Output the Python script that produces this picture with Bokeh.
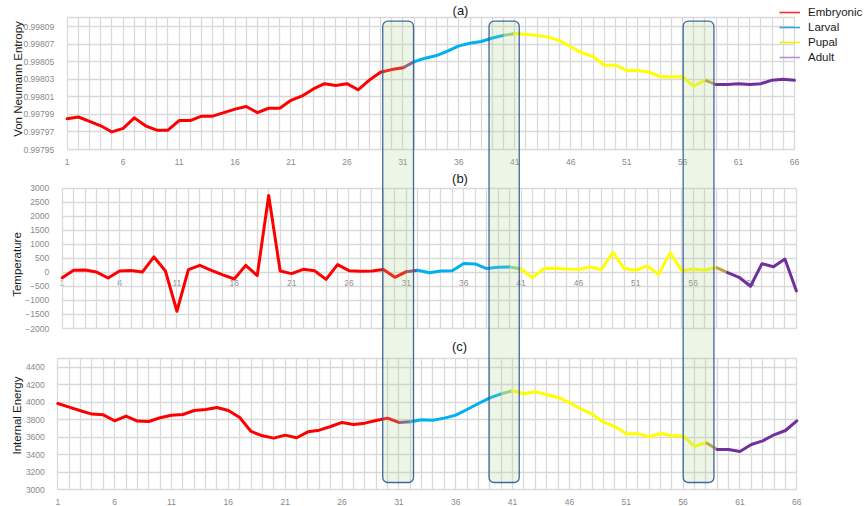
import math
from bokeh.plotting import figure
from bokeh.models import (Range1d, LinearAxis, FixedTicker, Grid, BoxAnnotation, Label,
                          Legend, LegendItem, PrintfTickFormatter, BasicTickFormatter)
from bokeh.embed import file_html
from bokeh.resources import INLINE

# ---------------- data ----------------
steps_a = list(range(1, 67))
entropy = [0.997985, 0.997987, 0.997982, 0.997977, 0.997970, 0.997974, 0.997986, 0.997977,
           0.997972, 0.997972, 0.997983, 0.997983, 0.997988, 0.997988, 0.997992, 0.997996,
           0.997999, 0.997992, 0.997997, 0.997997, 0.998006, 0.998011, 0.998019, 0.998025,
           0.998023, 0.998025, 0.998018, 0.998029, 0.998038, 0.998041, 0.998043, 0.998050,
           0.998054, 0.998057, 0.998062, 0.998068, 0.998071, 0.998073, 0.998077, 0.998080,
           0.998082, 0.998081, 0.998080, 0.998078, 0.998074, 0.998067, 0.998060, 0.998056,
           0.998046, 0.998046, 0.998040, 0.998040, 0.998038, 0.998033, 0.998033, 0.998033,
           0.998022, 0.998029, 0.998024, 0.998024, 0.998025, 0.998024, 0.998025, 0.998029,
           0.998030, 0.998029]

steps_b = list(range(1, 66))
temperature = [-190, 75, 85, 10, -200, 50, 70, 15, 550, 50,
               -1385, 100, 250, 75, -90, -235, 250, -115, 2740, 50,
               -45, 110, 60, -250, 275, 60, 40, 50, 100, -175,
               25, 75, -10, 50, 60, 320, 300, 135, 180, 190,
               120, -190, 145, 135, 120, 100, 190, 100, 715, 135,
               75, 225, -70, 700, 60, 120, 75, 180, -10, -175,
               -495, 310, 200, 475, -660]

steps_c = list(range(1, 67))
energy = [3985, 3943, 3902, 3864, 3856, 3788, 3841, 3784, 3780, 3822,
          3852, 3860, 3905, 3917, 3940, 3905, 3826, 3666, 3616, 3590,
          3624, 3594, 3662, 3681, 3723, 3769, 3746, 3761, 3791, 3818,
          3769, 3776, 3799, 3795, 3818, 3852, 3917, 3985, 4050, 4096,
          4130, 4096, 4119, 4088, 4054, 3995, 3925, 3864, 3772, 3723,
          3639, 3639, 3605, 3643, 3616, 3616, 3495, 3540, 3460, 3460,
          3437, 3517, 3559, 3628, 3677, 3788]

stage_names = ["Embryonic", "Larval", "Pupal", "Adult"]
stage_first_step = [1, 32, 41, 59]

entropy_ticks = [0.99795, 0.99797, 0.99799, 0.99801, 0.99803, 0.99805, 0.99807, 0.99809]
temperature_ticks = [-2000, -1500, -1000, -500, 0, 500, 1000, 1500, 2000, 2500, 3000]
energy_ticks = [3000, 3200, 3400, 3600, 3800, 4000, 4200, 4400]
step_ticks_66 = [1, 6, 11, 16, 21, 26, 31, 36, 41, 46, 51, 56, 61, 66]
step_ticks_65 = [1, 6, 11, 16, 21, 26, 31, 36, 41, 46, 51, 56, 61]

highlight_windows = [(29.2, 31.95), (38.7, 41.4), (56.05, 58.8)]   # in step units

# ---------------- styles / layout ----------------
W, H = 865, 506
stage_colors = ["#ff0000", "#00b0f0", "#ffff00", "#7030a0"]
blend_colors = ["#8a4a80", "#8fd47f", "#c0a048"]
legend_colors = ["#ff2a2a", "#2ea3dc", "#f5f000", "#b292d2"]
FONT = "Liberation Sans"
GRID_COLOR = "#d9d9d9"
TICK_COLOR = "#8a8a8a"

p = figure(width=W, height=H, x_range=Range1d(0, W), y_range=Range1d(H, 0),
           output_backend="svg", toolbar_location=None, x_axis_type=None, y_axis_type=None,
           min_border=0, min_border_left=0, min_border_right=0, min_border_top=0,
           min_border_bottom=0)
p.outline_line_color = None
p.background_fill_color = "white"
p.border_fill_color = "white"


def lin_range(v0, v1, s0, s1, size):
    k = (v1 - v0) / (s1 - s0)
    start = v0 - s0 * k
    return Range1d(start=start, end=start + size * k)


# panel geometry in pixels: x of first/last step, y of top/bottom value
panels = [
    dict(key="a", steps=steps_a, vals=entropy, yticks=entropy_ticks, xticks=step_ticks_66,
         ymin=0.99795, ymax=0.9981, px0=66.7, px1=794.0, py_top=17.3, py_bot=149.0,
         xaxis_at=0.99795, xstand=3, fmt=PrintfTickFormatter(format="%.5f"),
         label="Von Neumann Entropy", label_xy=(17, 78.5), title="(a)", title_xy=(460, 9.5)),
    dict(key="b", steps=steps_b, vals=temperature, yticks=temperature_ticks, xticks=step_ticks_65,
         ymin=-2000, ymax=3000, px0=61.7, px1=795.9, py_top=187.7, py_bot=328.0,
         xaxis_at=0, xstand=2, fmt=BasicTickFormatter(), label="Temperature",
         label_xy=(16.5, 264), title="(b)", title_xy=(459.5, 177.5)),
    dict(key="c", steps=steps_c, vals=energy, yticks=energy_ticks, xticks=step_ticks_66,
         ymin=3000, ymax=4500, px0=57.3, px1=796.3, py_top=357.9, py_bot=489.3,
         xaxis_at=3000, xstand=3, fmt=BasicTickFormatter(), label="Internal Energy",
         label_xy=(16.5, 415), title="(c)", title_xy=(459, 345.5)),
]

legend_renderers = []
for pn in panels:
    k = pn["key"]
    steps, vals = pn["steps"], pn["vals"]
    xmin, xmax = steps[0], steps[-1]
    p.extra_x_ranges[k] = lin_range(xmin, xmax, pn["px0"], pn["px1"], W)
    p.extra_y_ranges[k] = lin_range(pn["ymin"], pn["ymax"], H - pn["py_bot"], H - pn["py_top"], H)

    # grids
    ygrid_ticks = pn["yticks"] + ([pn["ymax"]] if pn["ymax"] not in pn["yticks"] else [])
    try:
        vg = Grid(dimension=0, ticker=FixedTicker(ticks=steps), x_range_name=k, y_range_name=k,
                  cross_bounds=(pn["ymin"], pn["ymax"]), grid_line_color=GRID_COLOR,
                  grid_line_width=1.3)
        hg = Grid(dimension=1, ticker=FixedTicker(ticks=ygrid_ticks), x_range_name=k,
                  y_range_name=k, cross_bounds=(xmin, xmax), grid_line_color=GRID_COLOR,
                  grid_line_width=1.3)
        p.add_layout(vg)
        p.add_layout(hg)
    except Exception:
        p.segment(x0=steps, x1=steps, y0=[pn["ymin"]] * len(steps), y1=[pn["ymax"]] * len(steps),
                  x_range_name=k, y_range_name=k, line_color=GRID_COLOR, line_width=1.3)
        p.segment(x0=[xmin] * len(ygrid_ticks), x1=[xmax] * len(ygrid_ticks), y0=ygrid_ticks,
                  y1=ygrid_ticks, x_range_name=k, y_range_name=k, line_color=GRID_COLOR,
                  line_width=1.3)

    # axes
    ya = LinearAxis(x_range_name=k, y_range_name=k, fixed_location=xmin,
                    bounds=(pn["ymin"], pn["ymax"]), ticker=FixedTicker(ticks=pn["yticks"]),
                    formatter=pn["fmt"], axis_line_color=None, major_tick_line_color=None,
                    minor_tick_line_color=None, major_label_standoff=7,
                    major_label_text_font_size="8.5px", major_label_text_color=TICK_COLOR,
                    major_label_text_font=FONT)
    p.add_layout(ya, "left")
    xa = LinearAxis(x_range_name=k, y_range_name=k, fixed_location=pn["xaxis_at"],
                    bounds=(xmin, xmax), ticker=FixedTicker(ticks=pn["xticks"]),
                    axis_line_color=None, major_tick_line_color=None, minor_tick_line_color=None,
                    major_label_standoff=pn["xstand"], major_label_text_font_size="8.5px",
                    major_label_text_color=TICK_COLOR, major_label_text_font=FONT)
    if k == "b":
        xa.level = "underlay"   # the data line runs over these in-plot labels
    p.add_layout(xa, "below")

    # stage lines
    bounds_idx = [s - 1 for s in stage_first_step] + [len(steps)]
    for si in range(4):
        s, e = bounds_idx[si], bounds_idx[si + 1]
        p.line(x=steps[s:e], y=vals[s:e], x_range_name=k, y_range_name=k,
               line_color=stage_colors[si], line_width=3, line_join="round", line_cap="round")
        if k == "a":
            # thinner, invisible copy that only supplies the legend swatch
            legend_renderers.append(
                p.line(x=steps[s:e], y=vals[s:e], x_range_name=k, y_range_name=k,
                       line_color=legend_colors[si], line_width=1.6, visible=False))
        if si < 3:
            p.line(x=steps[e - 1:e + 1], y=vals[e - 1:e + 1], x_range_name=k, y_range_name=k,
                   line_color=blend_colors[si], line_width=3, line_join="round")

    # axis title & panel title
    lx, ly = pn["label_xy"]
    p.add_layout(Label(x=lx, y=ly, text=pn["label"], angle=math.pi / 2,
                       text_align="center", text_baseline="middle", text_font=FONT,
                       text_font_size="11.5px", text_color="#1a1a1a"))
    tx, ty = pn["title_xy"]
    p.add_layout(Label(x=tx, y=ty, text=pn["title"], text_align="center",
                       text_baseline="middle", text_font=FONT, text_font_size="13px",
                       text_color="#1a1a1a"))

# highlight boxes spanning all three panels
for (l, r) in highlight_windows:
    p.add_layout(BoxAnnotation(left=l, right=r, top=20.7, bottom=482.0,
                               x_range_name="a", fill_color="#a9d08e", fill_alpha=0.22,
                               line_color="#2f5597", line_alpha=0.9, line_width=1.3,
                               border_radius=5))

# legend
items = [LegendItem(label=name, renderers=[r]) for name, r in zip(stage_names, legend_renderers)]
legend = Legend(items=items, location=(779, H - 64), glyph_width=21, glyph_height=14,
                label_height=14, spacing=1, padding=0, margin=0, label_standoff=8,
                border_line_color=None, background_fill_alpha=0,
                label_text_font=FONT, label_text_font_size="11.5px", label_text_color="#1a1a1a")
p.add_layout(legend)

open("out.html", "w").write(file_html(p, INLINE))
